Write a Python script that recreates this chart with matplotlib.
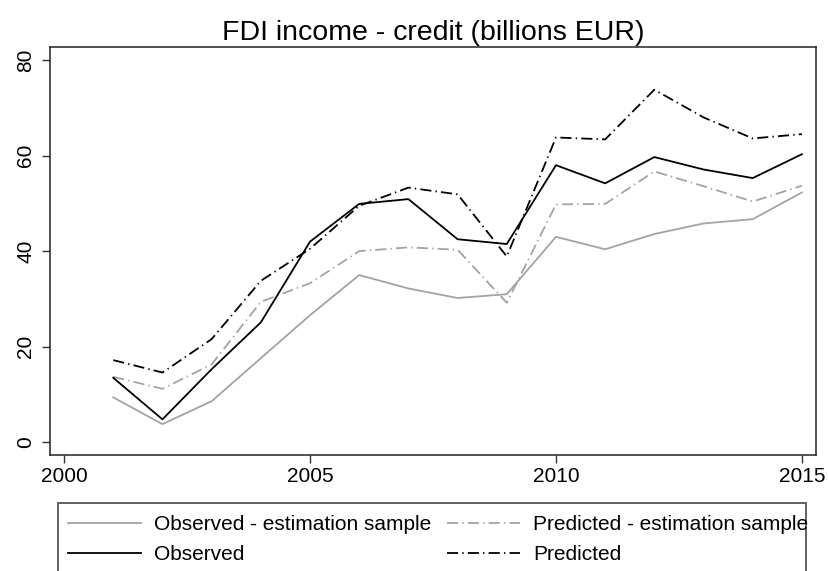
import matplotlib
matplotlib.use("Agg")
import matplotlib.pyplot as plt
from matplotlib.patches import Rectangle

plt.rcParams['font.family'] = ['Liberation Sans', 'DejaVu Sans']
plt.rcParams['lines.scale_dashes'] = False

years = list(range(2001, 2016))
observed_est = [9.4, 3.8, 8.6, 17.6, 26.6, 35.0, 32.2, 30.2, 31.0, 43.0, 40.4, 43.6, 45.8, 46.7, 52.3]
predicted_est = [13.7, 11.2, 16.3, 29.4, 33.3, 40.0, 40.8, 40.3, 29.2, 49.8, 49.9, 56.7, 53.6, 50.4, 53.7]
observed = [13.5, 4.8, 15.3, 25.1, 42.0, 49.9, 50.9, 42.5, 41.5, 58.0, 54.2, 59.7, 57.1, 55.3, 60.3]
predicted = [17.2, 14.6, 21.6, 33.8, 40.5, 49.5, 53.3, 51.9, 38.9, 63.8, 63.4, 73.8, 68.0, 63.6, 64.5]

labels = ["Observed - estimation sample", "Observed",
          "Predicted - estimation sample", "Predicted"]
xticks = [2000, 2005, 2010, 2015]
yticks = [0, 20, 40, 60, 80]

W, H = 829, 571
fig = plt.figure(figsize=(W / 100, H / 100), dpi=100)
ax = fig.add_axes([50.3 / W, 1 - 455 / H, (815.7 - 50.3) / W, (455 - 46.7) / H])

gray = '#a3a3a3'
dashdot = (0, (8, 3, 1, 3))
l1, = ax.plot(years, observed_est, color=gray, lw=1.3)
l3, = ax.plot(years, predicted_est, color=gray, lw=1.3, linestyle=dashdot)
l2, = ax.plot(years, observed, color='black', lw=1.3)
l4, = ax.plot(years, predicted, color='black', lw=1.3, linestyle=dashdot)

ax.set_xlim(1999.72, 2015.28)
ax.set_ylim(-2.66, 82.8)
ax.set_xticks(xticks)
ax.set_yticks(yticks)
ax.tick_params(axis='both', labelsize=15, length=6, width=1, color='#333333', direction='out')
ax.tick_params(axis='x', pad=3)
ax.tick_params(axis='y', pad=5)
for lab in ax.get_yticklabels():
    lab.set_rotation(90)
    lab.set_va('center')
for s in ax.spines.values():
    s.set_linewidth(1.1)
    s.set_color('#222222')

ax.set_title("FDI income - credit (billions EUR)", fontsize=20.5, pad=5)

leg = fig.legend([l1, l2, l3, l4], labels, ncol=2, loc='upper left',
                 bbox_to_anchor=(57.7 / W, 1 - 505 / H), frameon=False,
                 fontsize=15, handlelength=3.5, handletextpad=0.6,
                 columnspacing=0.8, labelspacing=0.5, borderpad=0.5,
                 borderaxespad=0)
fig.add_artist(Rectangle((57.7 / W, -0.05), (806 - 57.7) / W, (0.05 + 1 - 503 / H),
                         transform=fig.transFigure, fill=False,
                         edgecolor='#555555', lw=1.3))

fig.savefig("out.png", dpi=100)
